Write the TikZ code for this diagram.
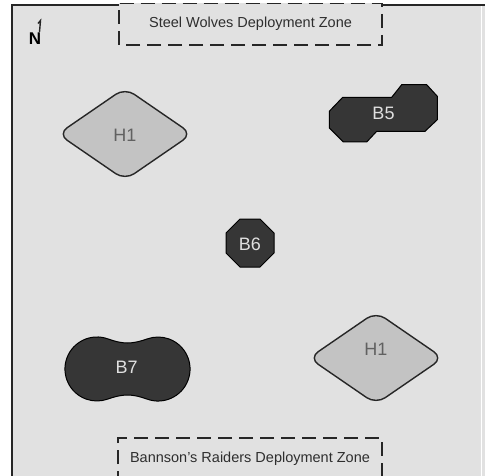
\documentclass[tikz,border=0pt]{standalone}
\usepackage{fontspec}
\setmainfont{Liberation Sans}
\definecolor{bg}{HTML}{E1E1E1}
\definecolor{hillgray}{HTML}{C3C3C3}
\definecolor{bldgdark}{HTML}{363636}
\begin{document}
\begin{tikzpicture}[x=1pt,y=1pt,
  zone/.style={draw=black!85, line width=1.6pt, dash pattern=on 14pt off 7pt, fill=bg},
  hill/.style={draw=black!85, line width=1.4pt, fill=hillgray, rounded corners=11pt},
  bldg/.style={draw=black, line width=1pt, fill=bldgdark},
  hlabel/.style={font=\fontsize{18}{21}\selectfont, text=black!62},
  blabel/.style={font=\fontsize{18}{21}\selectfont, text=white!88!black},
  zlabel/.style={font=\fontsize{14.5}{17}\selectfont, text=black!82}]
\useasboundingbox (0,0) rectangle (485,475);
\fill[white] (0,0) rectangle (485,475);
\fill[bg] (12,-5) rectangle (490,470);
\draw[line width=1.5pt, black!85] (12,-5) -- (12,470) -- (490,470);
\draw[white, line width=0.8pt] (481,-5) -- (481,469);

% deployment zones
\draw[zone] (119,430) rectangle (382,471.5);
\node[zlabel] (zsw) at (250.5,451) {Steel Wolves Deployment Zone};
\draw[zone] (118,-10) rectangle (382,37);
\node[zlabel] (zbr) at (250,16) {Bannson's Raiders Deployment Zone};

% north marker
\node[font=\fontsize{17}{20}\selectfont\bfseries, inner sep=0pt] (north) at (35,436.5) {N};
\draw[line width=1.4pt, black!85] (38,451.5) -- (40.5,454.5) -- (39.5,443);

% hills
\draw[hill] (58,341) -- (125,387) -- (192,341) -- (125,295) -- cycle;
\node[hlabel] (h1a) at (125,340) {H1};
\draw[hill] (309,117) -- (376,163) -- (443,117) -- (376,71) -- cycle;
\node[hlabel] (h1b) at (376,126) {H1};

% building B5
\draw[bldg] (342.7,377.7) -- (391.7,377.7) -- (401.7,390.3) -- (426.7,390.3)
  -- (437.3,378.7) -- (437.3,355.3) -- (425,343.7) -- (376.7,343.7)
  -- (366.7,333) -- (343.3,333) -- (329.3,347) -- (329.3,363.7) -- cycle;
\node[blabel] (b5) at (383.5,362) {B5};

% building B6
\draw[bldg] (240,256) -- (260,256) -- (274,242) -- (274,222) -- (260,208)
  -- (240,208) -- (226,222) -- (226,242) -- cycle;
\node[blabel] (b6) at (250,230.5) {B6};

% building B7
\draw[bldg] (127.5,132) .. controls (121,132) and (114.5,133.7) .. (107.9,136.1)
  arc[start angle=70, end angle=290, radius=32]
  .. controls (114.5,78.3) and (121,80) .. (127.5,80)
  .. controls (134,80) and (140.5,78.3) .. (147.1,75.9)
  arc[start angle=-110, end angle=110, radius=32]
  .. controls (140.5,133.7) and (134,132) .. cycle;
\node[blabel] (b7) at (126.7,108) {B7};
\end{tikzpicture}
\end{document}
